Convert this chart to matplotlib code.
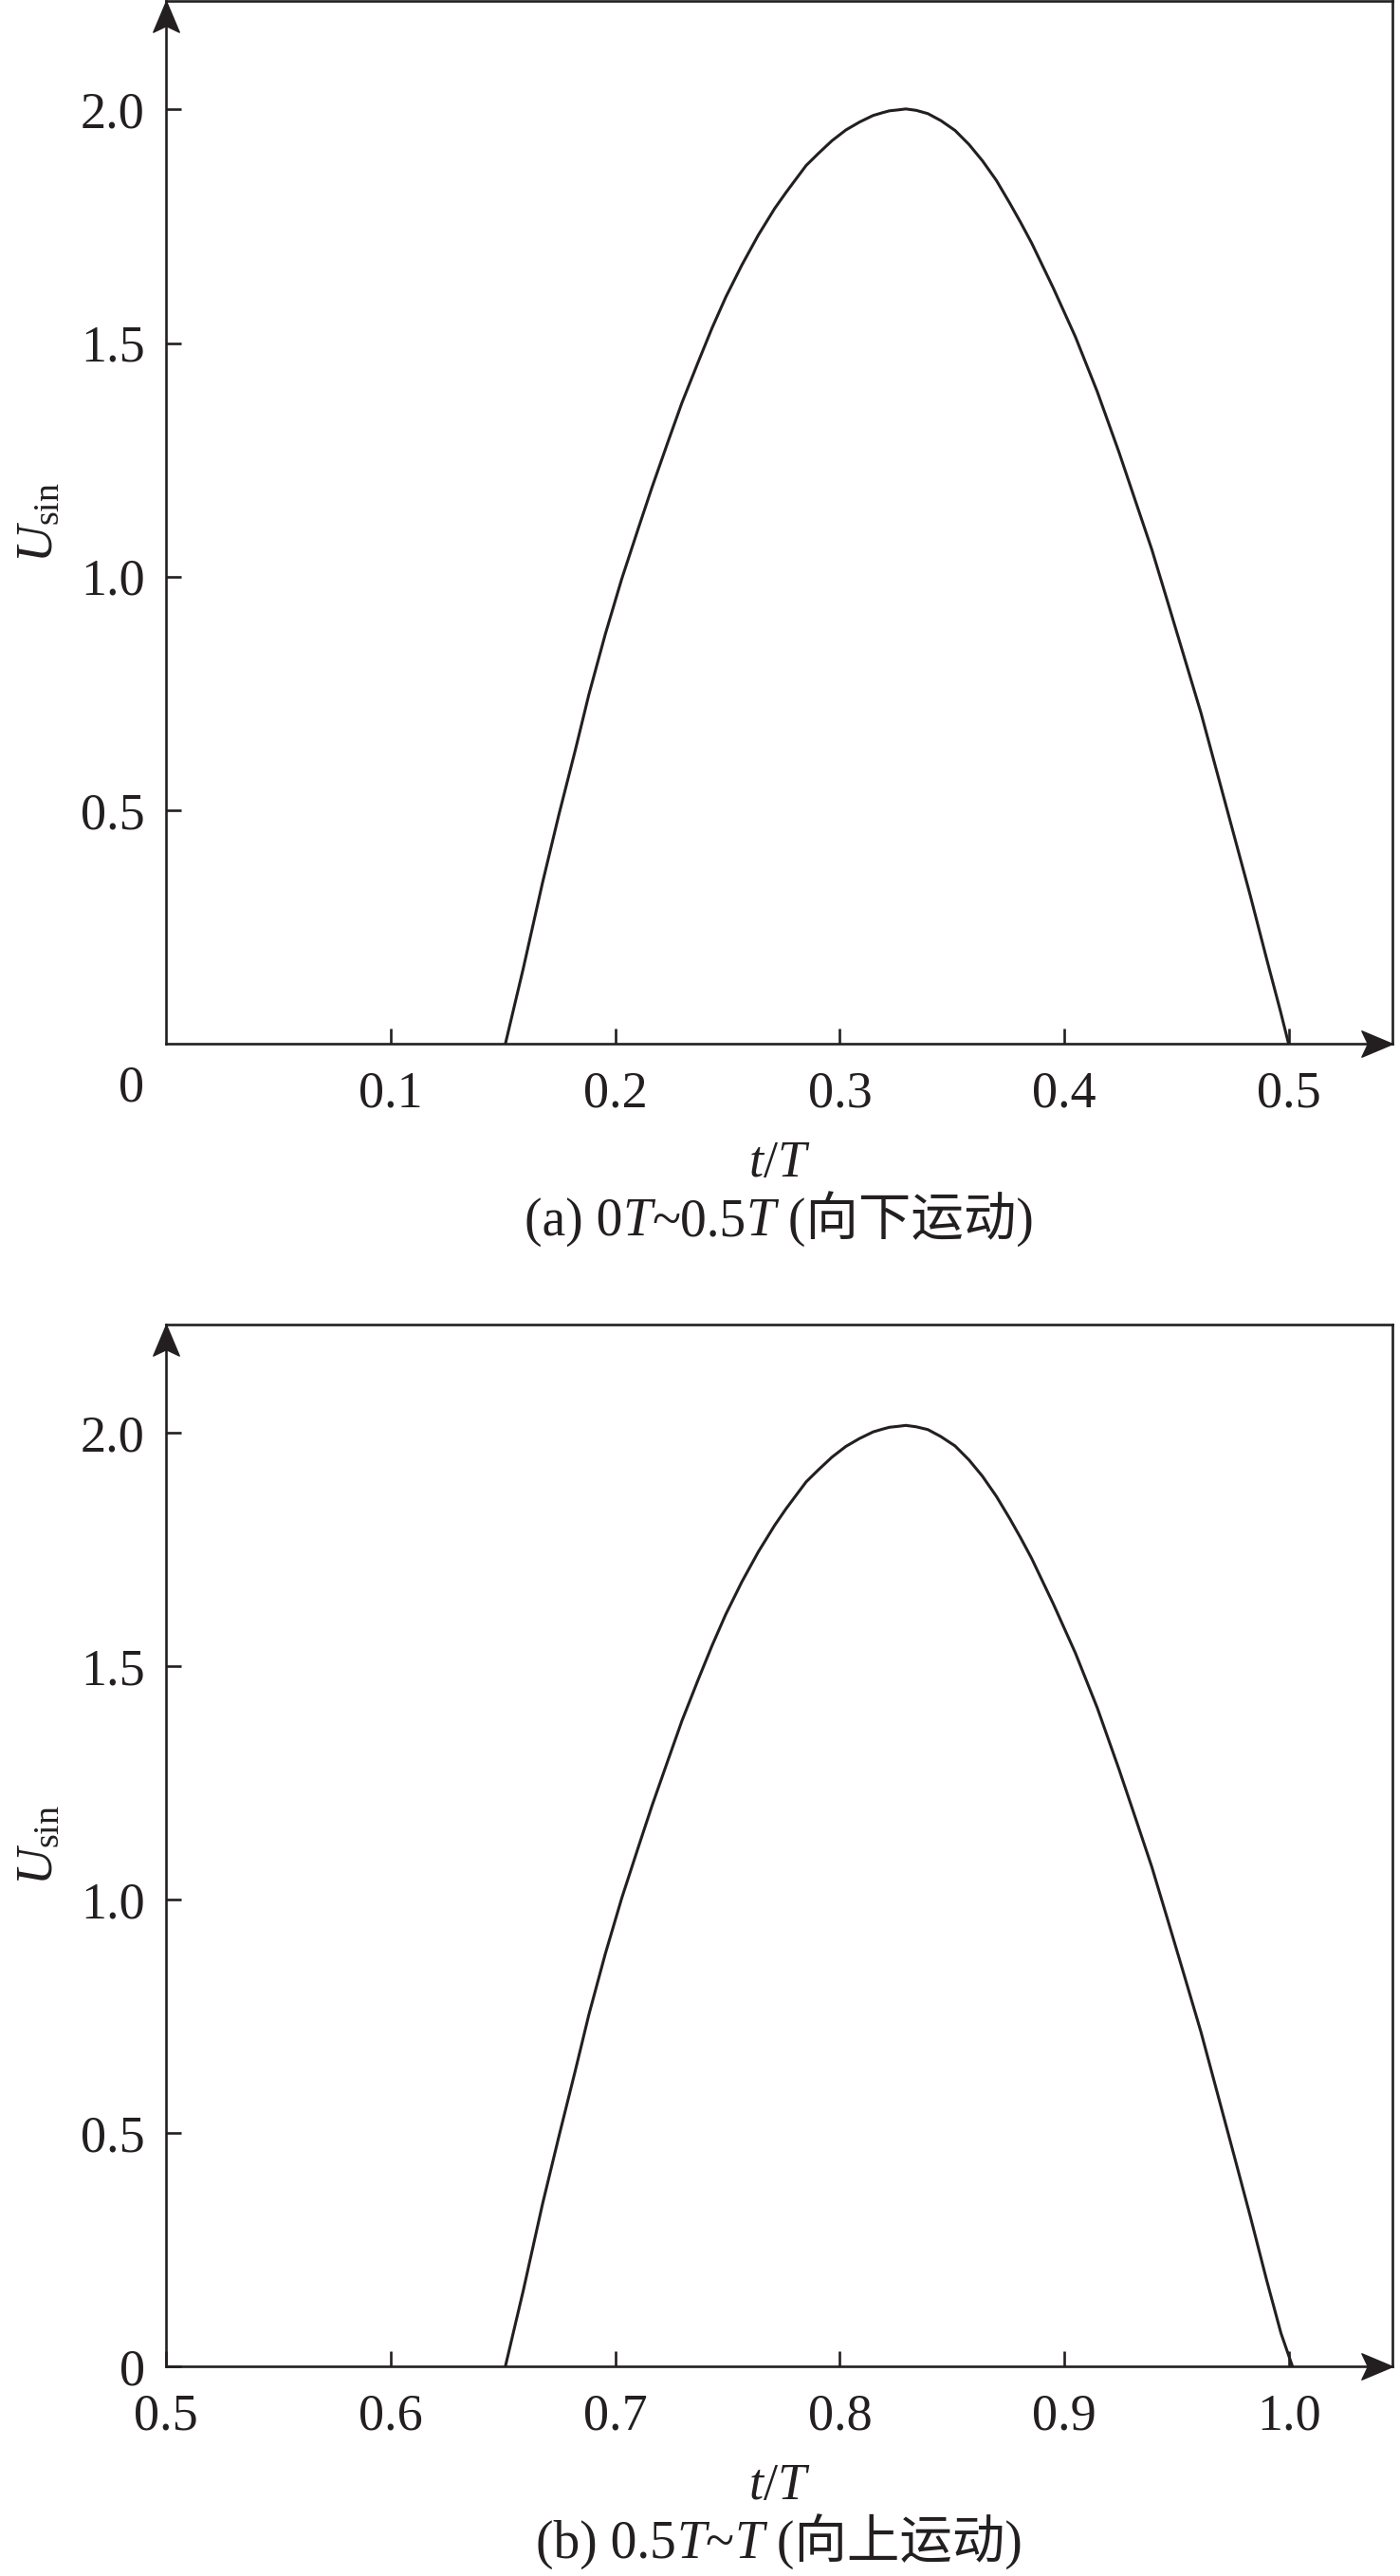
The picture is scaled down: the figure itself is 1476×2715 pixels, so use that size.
import matplotlib
matplotlib.use('Agg')
import matplotlib.pyplot as plt
from matplotlib.path import Path
from matplotlib.offsetbox import TextArea, HPacker, AnnotationBbox

plt.rcParams['font.family'] = ['Liberation Serif', 'Noto Sans CJK SC']
plt.rcParams['mathtext.fontset'] = 'custom'
plt.rcParams['mathtext.rm'] = 'Liberation Serif'
plt.rcParams['mathtext.it'] = 'Liberation Serif:italic'

INK = '#231f20'

# (a) 0T~0.5T
t_down = [0.1511, 0.1591, 0.1676, 0.1749, 0.1822, 0.1883, 0.1956, 0.2029,
          0.2102, 0.2163, 0.2236, 0.2297, 0.2370, 0.2431, 0.2492, 0.2564,
          0.2637, 0.2710, 0.2760, 0.2808, 0.2850, 0.2905, 0.2965, 0.3027,
          0.3088, 0.3148, 0.3190, 0.3221, 0.3260, 0.3294,
          0.3340, 0.3392, 0.3450, 0.3513, 0.3575, 0.3635, 0.3697, 0.3757,
          0.3805, 0.3854, 0.3951, 0.4049, 0.4146,
          0.4243, 0.4316, 0.4389, 0.4462, 0.4535, 0.4608, 0.4681, 0.4754,
          0.4827, 0.4900, 0.4961, 0.4998]
u_down = [0.000, 0.162, 0.344, 0.490, 0.628, 0.748, 0.877, 0.995,
          1.102, 1.190, 1.290, 1.372, 1.460, 1.532, 1.598, 1.667,
          1.731, 1.788, 1.822, 1.853, 1.880, 1.906, 1.933, 1.956,
          1.973, 1.987, 1.993, 1.997, 1.999, 2.001,
          1.998, 1.991, 1.976, 1.955, 1.925, 1.890, 1.848, 1.799,
          1.758, 1.714, 1.617, 1.513, 1.396,
          1.266, 1.162, 1.058, 0.942, 0.825, 0.708, 0.578, 0.448,
          0.318, 0.182, 0.071, 0.000]

# (b) 0.5T~T
t_up = [0.6511, 0.6591, 0.6676, 0.6750, 0.6822, 0.6883, 0.6956, 0.7029,
        0.7102, 0.7163, 0.7236, 0.7297, 0.7370, 0.7431, 0.7492, 0.7564,
        0.7637, 0.7710, 0.7760, 0.7808, 0.7850, 0.7905, 0.7965, 0.8027,
        0.8088, 0.8148, 0.8190, 0.8221, 0.8260, 0.8294,
        0.8340, 0.8392, 0.8450, 0.8513, 0.8575, 0.8635, 0.8697, 0.8757,
        0.8805, 0.8854, 0.8951, 0.9049, 0.9146,
        0.9243, 0.9316, 0.9389, 0.9462, 0.9535, 0.9608, 0.9681, 0.9754,
        0.9827, 0.9900, 0.9964, 1.0015]
u_up = [0.000, 0.163, 0.347, 0.494, 0.633, 0.754, 0.884, 1.003,
        1.111, 1.200, 1.300, 1.383, 1.472, 1.544, 1.611, 1.681,
        1.745, 1.802, 1.837, 1.868, 1.895, 1.921, 1.948, 1.971,
        1.988, 2.002, 2.008, 2.012, 2.014, 2.016,
        2.013, 2.007, 1.992, 1.972, 1.942, 1.907, 1.864, 1.816,
        1.775, 1.731, 1.633, 1.528, 1.411,
        1.279, 1.175, 1.070, 0.953, 0.835, 0.716, 0.585, 0.454,
        0.322, 0.185, 0.071, 0.000]

xticks_a = [0.1, 0.2, 0.3, 0.4, 0.5]
xlabels_a = ['0.1', '0.2', '0.3', '0.4', '0.5']
yticks_a = [0.5, 1.0, 1.5, 2.0]
ylabels_a = ['0.5', '1.0', '1.5', '2.0']

xticks_b = [0.5, 0.6, 0.7, 0.8, 0.9, 1.0]
xlabels_b = ['0.5', '0.6', '0.7', '0.8', '0.9', '1.0']
yticks_b = [0.0, 0.5, 1.0, 1.5, 2.0]
ylabels_b = ['0', '0.5', '1.0', '1.5', '2.0']

caption_a = [('(a) 0', 'normal'), ('T', 'italic'), ('~0.5', 'normal'),
             ('T', 'italic'), (' (向下运动)', 'normal')]
caption_b = [('(b) 0.5', 'normal'), ('T', 'italic'), ('~', 'normal'),
             ('T', 'italic'), (' (向上运动)', 'normal')]

FS = 39
CAP_FS = 40

# stealth-like arrow heads, tip at the origin
ARROW_UP = Path([(0, 0), (-0.42, -1), (0, -0.8), (0.42, -1), (0, 0)],
                [Path.MOVETO, Path.LINETO, Path.LINETO, Path.LINETO,
                 Path.CLOSEPOLY])
ARROW_RIGHT = Path([(0, 0), (-1, 0.42), (-0.8, 0), (-1, -0.42), (0, 0)],
                   [Path.MOVETO, Path.LINETO, Path.LINETO, Path.LINETO,
                    Path.CLOSEPOLY])


def style_axes(ax, xlim, xticks, xlabels, yticks, ylabels):
    ax.set_xlim(*xlim)
    ax.set_ylim(0, 2.232)
    ax.set_xticks(xticks)
    ax.set_xticklabels(xlabels)
    ax.set_yticks(yticks)
    ax.set_yticklabels(ylabels)
    for spine in ax.spines.values():
        spine.set_linewidth(1.9)
        spine.set_color(INK)
    ax.tick_params(direction='in', length=11.5, width=1.9, colors=INK,
                   labelsize=FS, labelcolor=INK)
    ax.tick_params(axis='x', pad=20)
    ax.tick_params(axis='y', pad=16)

    ax.plot([1], [0], transform=ax.transAxes, marker=ARROW_RIGHT,
            ms=47, color=INK, clip_on=False, zorder=5)
    ax.plot([0], [1], transform=ax.transAxes, marker=ARROW_UP,
            ms=47, color=INK, clip_on=False, zorder=5)

    ax.set_xlabel(r'$t/T$', fontsize=FS, color=INK)
    ax.xaxis.set_label_coords(0.5, -0.092)
    ax.set_ylabel(r'$U_{\rm sin}$', fontsize=FS, color=INK)
    ax.yaxis.set_label_coords(-0.084, 0.5)


def add_caption(ax, parts):
    boxes = [
        TextArea(text, textprops=dict(fontsize=CAP_FS, fontstyle=style,
                                      color=INK))
        for text, style in parts
    ]
    packed = HPacker(children=boxes, align='baseline', pad=0, sep=0)
    ab = AnnotationBbox(packed, (0.5, -0.168), xycoords='axes fraction',
                        box_alignment=(0.5, 0.5), frameon=False, pad=0)
    ax.add_artist(ab)


fig = plt.figure(figsize=(14.76, 27.15), dpi=100)
ax1 = fig.add_axes([0.11856, 0.5948, 0.876, 0.4048])
ax2 = fig.add_axes([0.11856, 0.0814, 0.876, 0.4044])

ax1.plot(t_down, u_down, color=INK, lw=2.2, solid_joinstyle='round')
style_axes(ax1, (0, 0.546), xticks_a, xlabels_a, yticks_a, ylabels_a)
ax1.annotate('0', xy=(0, 0), xycoords='axes fraction', xytext=(-26, -34),
             textcoords='offset points', ha='center', va='center',
             fontsize=FS, color=INK)
add_caption(ax1, caption_a)

ax2.plot(t_up, u_up, color=INK, lw=2.2, solid_joinstyle='round')
style_axes(ax2, (0.5, 1.046), xticks_b, xlabels_b, yticks_b, ylabels_b)
add_caption(ax2, caption_b)

fig.savefig('out.png', dpi=100)
